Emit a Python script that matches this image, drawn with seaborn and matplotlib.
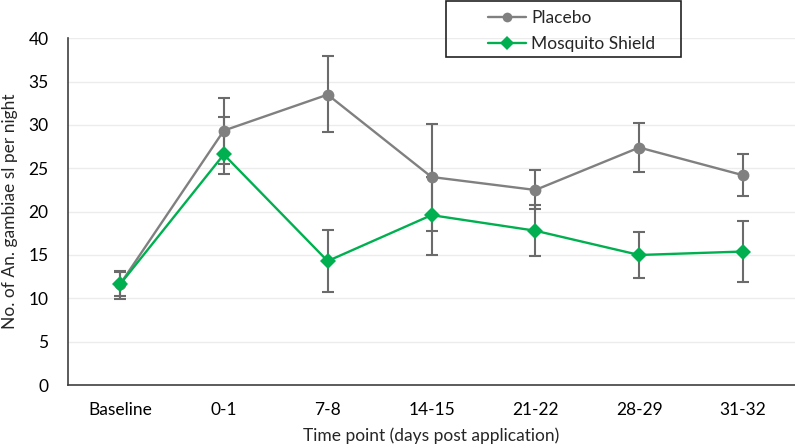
import pandas as pd
import matplotlib
matplotlib.use("Agg")
import matplotlib.pyplot as plt
import seaborn as sns
from matplotlib.patches import Rectangle

# Data
time_points = ["Baseline", "0-1", "7-8", "14-15", "21-22", "28-29", "31-32"]
placebo_mean = [11.6, 29.35, 33.5, 24.0, 22.5, 27.4, 24.2]
placebo_low = [9.9, 25.5, 29.2, 17.8, 20.35, 24.6, 21.85]
placebo_high = [13.2, 33.1, 37.95, 30.1, 24.75, 30.2, 26.7]
shield_mean = [11.6, 26.6, 14.3, 19.6, 17.8, 15.0, 15.4]
shield_low = [10.3, 24.35, 10.7, 15.0, 14.9, 12.4, 11.9]
shield_high = [13.0, 30.9, 17.9, 24.0, 20.77, 17.6, 18.9]

sns.set_theme(style="white")
plt.rcParams["font.family"] = ["Lato", "DejaVu Sans"]

df = pd.DataFrame({
    "time": time_points * 2,
    "count": placebo_mean + shield_mean,
    "group": ["Placebo"] * len(time_points) + ["Mosquito Shield"] * len(time_points),
})

fig = plt.figure(figsize=(7.95, 4.48), dpi=100)
ax = fig.add_axes([68 / 795, 1 - 385 / 448, 727 / 795, (385 - 38.3) / 448])

palette = {"Placebo": "#808080", "Mosquito Shield": "#00B050"}
markers = {"Placebo": "o", "Mosquito Shield": "D"}

# error bars (drawn between lines and markers)
for mean, low, high in [(placebo_mean, placebo_low, placebo_high),
                        (shield_mean, shield_low, shield_high)]:
    yerr = [[m - l for m, l in zip(mean, low)], [h - m for m, h in zip(mean, high)]]
    ax.errorbar(range(len(time_points)), mean, yerr=yerr, fmt="none",
                ecolor="#6b6b6b", elinewidth=1.5, capsize=4.5, capthick=1.5, zorder=3)

sns.lineplot(data=df, x="time", y="count", hue="group", style="group",
             palette=palette, markers=markers, dashes=False, sort=False,
             linewidth=1.7, markersize=8.5, markeredgewidth=0, ax=ax, legend=False, zorder=4)

ax.set_xlim(-0.5, len(time_points) - 0.5)
ax.set_ylim(0, 40)
ax.set_yticks(range(0, 41, 5))
ax.grid(axis="y", color="#ececec", linewidth=1)
ax.set_axisbelow(True)
for side in ["top", "right"]:
    ax.spines[side].set_visible(False)
ax.spines["left"].set_color("#404040")
ax.spines["bottom"].set_color("#404040")
ax.spines["left"].set_linewidth(1.2)
ax.spines["bottom"].set_linewidth(1.2)
ax.tick_params(axis="both", labelsize=12.5, length=0, colors="black")
ax.tick_params(axis="x", pad=12)
ax.tick_params(axis="y", pad=14)
ax.set_xlabel("Time point (days post application)", fontsize=12.5, labelpad=7)
ax.set_ylabel("No. of An. gambiae sl per night", fontsize=12.5)
ax.yaxis.set_label_coords(-50 / 727, 0.5)

# legend
handles = [plt.Line2D([], [], color=palette[g], marker=markers[g], markersize=7,
                      markeredgewidth=0, linewidth=1.7) for g in ["Placebo", "Mosquito Shield"]]
fig.legend(handles, ["Placebo", "Mosquito Shield"], loc="upper left",
           bbox_to_anchor=(481 / 795, 1 - 3 / 448), frameon=False, fontsize=12.5,
           handlelength=2.2, handletextpad=0.3, labelspacing=0.6, borderaxespad=0)
fig.patches.append(Rectangle((446 / 795, 1 - 57 / 448), 235 / 795, 56 / 448,
                             transform=fig.transFigure, fill=False,
                             edgecolor="#222222", linewidth=1.2, zorder=10))

fig.savefig("out.png", dpi=100)
